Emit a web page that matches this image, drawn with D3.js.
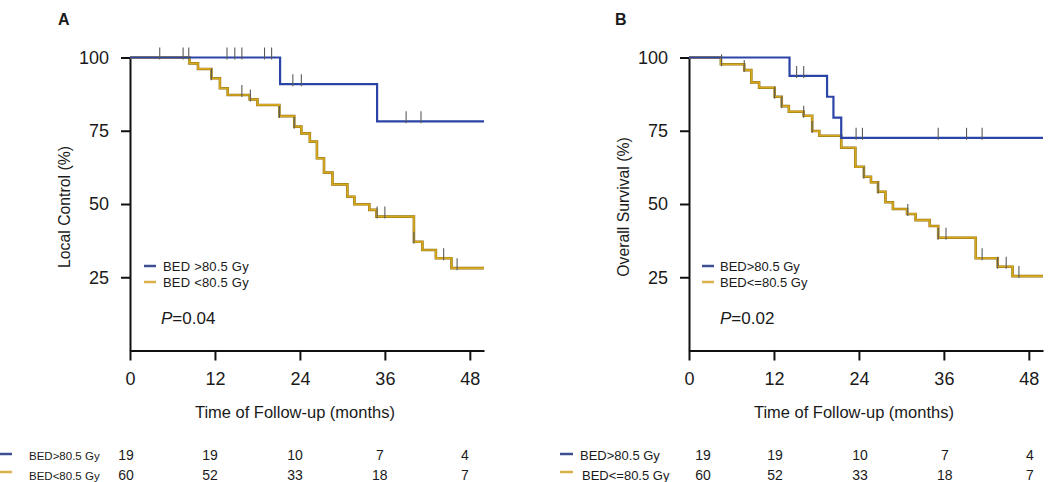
<!DOCTYPE html>
<html><head><meta charset="utf-8">
<script src="https://cdn.jsdelivr.net/npm/d3@7"></script>
<style>
body{margin:0;background:#fff}
svg{display:block}
text{font-family:Arial,"Liberation Sans",Helvetica,sans-serif;fill:#1a1a1a}
</style>
</head><body>
<svg id="c" width="1050" height="482"></svg>
<script>
// ---------- data ----------
const xTicks = [0, 12, 24, 36, 48];
const yTicks = [25, 50, 75, 100];
const riskMonths = [0, 12, 24, 36, 48];

// Panel A: Local control
const lcHighTime = [0, 21.2, 34.9];
const lcHighSurv = [100, 90.9, 78.2];
const lcHighCensor = [4.2, 7.5, 8.3, 13.7, 14.8, 15.8, 19.0, 20.0, 23.0, 24.2, 39.0, 41.1];
const lcLowTime = [0, 8.4, 9.6, 11.5, 12.7, 13.8, 16.9, 18.0, 21.1, 23.2, 24.2, 25.4, 26.4, 27.4, 28.6, 30.7, 31.7, 33.8, 34.8, 40.1, 41.3, 43.2, 45.4];
const lcLowSurv = [100, 98.0, 96.1, 92.9, 89.5, 87.2, 85.7, 83.8, 80.0, 76.4, 74.1, 71.3, 65.6, 60.7, 56.7, 52.5, 49.9, 48.0, 45.7, 37.1, 34.3, 31.5, 28.1];
const lcLowCensor = [11.5, 15.8, 17.0, 21.1, 23.2, 34.9, 36.0, 40.1, 44.3, 46.2];
const lcRiskHigh = [19, 19, 10, 7, 4];
const lcRiskLow = [60, 52, 33, 18, 7];

// Panel B: Overall survival
const osHighTime = [0, 14.2, 19.5, 20.4, 21.5];
const osHighSurv = [100, 93.7, 86.6, 79.5, 72.6];
const osHighCensor = [15.2, 16.2, 23.6, 24.5, 35.2, 39.2, 41.4];
const osLowTime = [0, 4.5, 7.8, 8.8, 9.9, 12.1, 13.1, 14.1, 16.2, 17.4, 18.4, 21.5, 23.5, 24.7, 25.7, 26.7, 27.75, 28.8, 30.8, 32.0, 34.0, 35.2, 40.5, 43.6, 45.7];
const osLowSurv = [100, 97.7, 95.7, 91.5, 89.7, 86.6, 83.4, 81.5, 80.1, 74.9, 73.3, 69.2, 62.7, 59.3, 57.4, 54.2, 50.6, 48.3, 46.6, 44.5, 42.5, 38.5, 31.5, 28.6, 25.4];
const osLowCensor = [4.6, 7.8, 12.1, 13.1, 16.2, 17.4, 24.7, 26.7, 30.9, 35.2, 36.3, 41.4, 43.6, 44.8, 46.6];
const osRiskHigh = [19, 19, 10, 7, 4];
const osRiskLow = [60, 52, 33, 18, 7];

const xMax = 50;

// ---------- style ----------
const BLUE = '#2a45a6', GOLD = '#d8a81c', GOLD_EDGE = '#8c7118', CENS = '#5a5a5a';
const LEG_BLUE = '#3c4f92', LEG_GOLD = '#d9b04a';
const svg = d3.select('#c');

function stepAt(times, surv, t){
  let v = surv[0];
  for (let i = 0; i < times.length; i++) if (times[i] <= t) v = surv[i];
  return v;
}

function drawPanel(cfg){
  const x = d3.scaleLinear().domain([0, xMax]).range([cfg.left, cfg.left + 354]);
  const y = d3.scaleLinear().domain([0, 100]).range([350.5, 57.5]);
  const g = svg.append('g');

  // axes
  const xa = g.append('g').attr('transform', 'translate(0,350.5)')
    .call(d3.axisBottom(x).tickValues(xTicks).tickSize(10).tickSizeOuter(0).tickPadding(12));
  const ya = g.append('g').attr('transform', `translate(${cfg.left},0)`)
    .call(d3.axisLeft(y).tickValues(yTicks).tickSize(9).tickSizeOuter(0).tickPadding(12));
  [xa, ya].forEach(a => {
    a.select('.domain').attr('stroke', '#111').attr('stroke-width', 2);
    a.selectAll('.tick line').attr('stroke', '#111').attr('stroke-width', 2);
    a.selectAll('.tick text').attr('font-size', 18).attr('font-family', 'Arial, Liberation Sans, sans-serif').attr('fill', '#222');
  });

  const line = d3.line().curve(d3.curveStepAfter).x(d => x(d[0])).y(d => y(d[1]));
  function curve(times, surv, color, edge){
    const pts = times.map((t, i) => [t, surv[i]]);
    pts.push([xMax, surv[surv.length - 1]]);
    if (edge) g.append('path').attr('d', line(pts)).attr('fill', 'none').attr('stroke', edge).attr('stroke-width', 2.6);
    g.append('path').attr('d', line(pts)).attr('fill', 'none').attr('stroke', color).attr('stroke-width', edge ? 1.7 : 2.2);
  }
  function censors(times, surv, cens){
    g.selectAll(null).data(cens).enter().append('line')
      .attr('x1', d => x(d)).attr('x2', d => x(d))
      .attr('y1', d => y(stepAt(times, surv, d)) - 10)
      .attr('y2', d => y(stepAt(times, surv, d)) + 2)
      .attr('stroke', CENS).attr('stroke-width', 1.1);
  }
  curve(cfg.lowT, cfg.lowS, GOLD, GOLD_EDGE);
  curve(cfg.highT, cfg.highS, BLUE, null);
  censors(cfg.lowT, cfg.lowS, cfg.lowC);
  censors(cfg.highT, cfg.highS, cfg.highC);

  // inner legend
  const leg = [[LEG_BLUE, cfg.legHigh, 266, 271], [LEG_GOLD, cfg.legLow, 282, 287]];
  leg.forEach(([c, t, ly, ty]) => {
    g.append('line').attr('x1', cfg.left + cfg.legDash).attr('x2', cfg.left + cfg.legDash + 12)
      .attr('y1', ly).attr('y2', ly).attr('stroke', c).attr('stroke-width', 2.5);
    g.append('text').attr('x', cfg.left + cfg.legText).attr('y', ty).attr('font-size', 13)
      .attr('letter-spacing', cfg.legSpacing).text(t);
  });

  // p-value
  const p = g.append('text').attr('x', cfg.left + 31).attr('y', 323.5).attr('font-size', 17);
  p.append('tspan').attr('font-style', 'italic').text('P');
  p.append('tspan').text(cfg.pval);

  // panel letter
  g.append('text').attr('x', cfg.letterX).attr('y', 25).attr('font-size', 16).attr('font-weight', 'bold').text(cfg.letter);

  // axis titles
  g.append('text').attr('text-anchor', 'middle')
    .attr('transform', `translate(${cfg.left - 60},207) rotate(-90) scale(0.93,1)`)
    .attr('font-size', 17).text(cfg.yTitle);
  g.append('text').attr('text-anchor', 'middle')
    .attr('transform', `translate(${x(24) - 5},417.5) scale(0.97,1)`)
    .attr('font-size', 17).text('Time of Follow-up (months)');

  // number at risk table
  const rows = [[LEG_BLUE, cfg.tabHigh, cfg.riskHigh, 454, 460, 0], [LEG_GOLD, cfg.tabLow, cfg.riskLow, 472, 480, cfg.tabIndent]];
  rows.forEach(([c, lab, vals, ly, ty, ind]) => {
    g.append('line').attr('x1', cfg.tabDash).attr('x2', cfg.tabDash + 13).attr('y1', ly).attr('y2', ly)
      .attr('stroke', c).attr('stroke-width', 2.5);
    g.append('text').attr('x', cfg.tabText + ind).attr('y', ty).attr('font-size', cfg.tabFont).text(lab);
    g.selectAll(null).data(riskMonths).enter().append('text')
      .attr('x', (d, i) => x(d) + cfg.numDx + (i === 0 ? cfg.firstDx : 0))
      .attr('y', ty).attr('text-anchor', 'middle').attr('font-size', 14)
      .text((d, i) => vals[i]);
  });
}

drawPanel({
  left: 130, letter: 'A', letterX: 58, yTitle: 'Local Control (%)', pval: '=0.04',
  highT: lcHighTime, highS: lcHighSurv, highC: lcHighCensor,
  lowT: lcLowTime, lowS: lcLowSurv, lowC: lcLowCensor,
  legHigh: 'BED >80.5 Gy', legLow: 'BED <80.5 Gy', legDash: 14, legText: 33, legSpacing: 0.2,
  tabHigh: 'BED>80.5 Gy', tabLow: 'BED<80.5 Gy', tabDash: -1, tabText: 29, tabIndent: 0, tabFont: 11.5,
  riskHigh: lcRiskHigh, riskLow: lcRiskLow, numDx: -5, firstDx: 1
});
drawPanel({
  left: 689, letter: 'B', letterX: 615, yTitle: 'Overall Survival (%)', pval: '=0.02',
  highT: osHighTime, highS: osHighSurv, highC: osHighCensor,
  lowT: osLowTime, lowS: osLowSurv, lowC: osLowCensor,
  legHigh: 'BED>80.5 Gy', legLow: 'BED<=80.5 Gy', legDash: 13, legText: 31, legSpacing: 0,
  tabHigh: 'BED>80.5 Gy', tabLow: 'BED<=80.5 Gy', tabDash: 560, tabText: 580, tabIndent: 2, tabFont: 13,
  riskHigh: osRiskHigh, riskLow: osRiskLow, numDx: 1, firstDx: 13
});
</script>
</body></html>
